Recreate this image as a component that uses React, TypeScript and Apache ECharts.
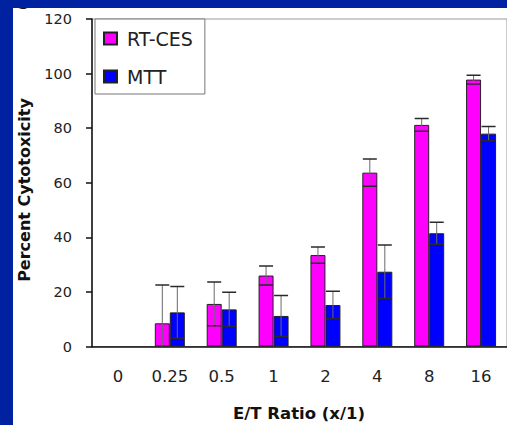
import React, { useEffect, useRef } from "react";
import * as echarts from "echarts";

const categories = ["0", "0.25", "0.5", "1", "2", "4", "8", "16"];
const rtcesValues = [null, 8.5, 15.6, 26.0, 33.5, 63.7, 81.2, 97.8];
const rtcesErrors = [null, 14.0, 8.0, 3.5, 3.0, 5.0, 2.3, 1.6];
const mttValues = [null, 12.5, 13.6, 11.2, 15.2, 27.4, 41.5, 78.0];
const mttErrors = [null, 9.5, 6.3, 7.5, 5.0, 9.8, 4.0, 2.6];
const yTicks = { min: 0, max: 120, interval: 20 };

const FONT = "DejaVu Sans";
const BAR_W = 15;

function errorSeries(name: string, values: (number | null)[], errors: (number | null)[], offset: number) {
  const data: number[][] = [];
  values.forEach((v, i) => {
    if (v != null && errors[i] != null) data.push([i, v, errors[i] as number]);
  });
  return {
    name,
    type: "custom",
    z: 4,
    clip: true,
    encode: { x: 0, y: 1 },
    data,
    renderItem: (params: any, api: any) => {
      const idx = api.value(0);
      const val = api.value(1);
      const err = api.value(2);
      const c = api.coord([idx, val]);
      const hi = api.coord([idx, val + err]);
      const lowVal = Math.max(0, val - err);
      const lo = api.coord([idx, lowVal]);
      const x = c[0] + offset;
      const half = 7;
      const children: any[] = [
        { type: "line", shape: { x1: x, y1: hi[1], x2: x, y2: lo[1] }, style: { stroke: "#6a6a6a", lineWidth: 1 } },
        { type: "line", shape: { x1: x - half, y1: hi[1], x2: x + half, y2: hi[1] }, style: { stroke: "#2a2a2a", lineWidth: 1.5 } },
      ];
      if (val - err > 0) {
        children.push({ type: "line", shape: { x1: x - half, y1: lo[1], x2: x + half, y2: lo[1] }, style: { stroke: "#2a2a2a", lineWidth: 1.5 } });
      }
      return { type: "group", children };
    },
  };
}

export default function App() {
  const ref = useRef<HTMLDivElement>(null);
  useEffect(() => {
    if (!ref.current) return;
    const chart = echarts.init(ref.current, null, { renderer: "svg" });
    chart.setOption({
      animation: false,
      backgroundColor: "transparent",
      grid: { left: 92, top: 19, width: 423, height: 327.5, show: true, borderColor: "#9a9a9a", borderWidth: 1, backgroundColor: "transparent" },
      legend: {
        orient: "vertical",
        left: 95,
        top: 19,
        icon: "rect",
        itemWidth: 13,
        itemHeight: 12,
        itemGap: 19,
        padding: [10, 12, 8, 8],
        borderColor: "#777",
        borderWidth: 1,
        backgroundColor: "#fff",
        textStyle: { fontFamily: FONT, fontSize: 19, color: "#222", padding: [0, 0, 0, 5] },
        data: ["RT-CES", "MTT"],
      },
      xAxis: {
        type: "category",
        data: categories,
        axisLine: { lineStyle: { color: "#111", width: 1.5 } },
        axisTick: { length: 5, lineStyle: { color: "#111", width: 1.5 } },
        axisLabel: { margin: 21, fontSize: 16.5, color: "#222", fontFamily: FONT },
        splitLine: { show: false },
      },
      yAxis: {
        type: "value",
        min: yTicks.min,
        max: yTicks.max,
        interval: yTicks.interval,
        axisLine: { show: true, lineStyle: { color: "#111", width: 1.5 } },
        axisTick: { show: true, length: 6, lineStyle: { color: "#111", width: 1.5 } },
        axisLabel: { margin: 20, fontSize: 14.5, color: "#222", fontFamily: FONT },
        splitLine: { show: false },
      },
      series: [
        {
          name: "RT-CES",
          type: "bar",
          data: rtcesValues.map((v) => (v == null ? "-" : v)),
          barWidth: BAR_W,
          barGap: "0%",
          itemStyle: { color: "#ff00ff", borderColor: "#222", borderWidth: 1 },
        },
        {
          name: "MTT",
          type: "bar",
          data: mttValues.map((v) => (v == null ? "-" : v)),
          barWidth: BAR_W,
          barGap: "0%",
          itemStyle: { color: "#0000ff", borderColor: "#222", borderWidth: 1 },
        },
        errorSeries("RT-CES error", rtcesValues, rtcesErrors, -BAR_W / 2),
        errorSeries("MTT error", mttValues, mttErrors, BAR_W / 2),
      ],
      graphic: [
        {
          type: "text",
          x: 24,
          y: 190,
          rotation: Math.PI / 2,
          style: { text: "Percent Cytotoxicity", font: `bold 16px '${FONT}'`, fill: "#111", align: "center", verticalAlign: "middle" },
        },
        {
          type: "text",
          x: 299,
          y: 413,
          style: { text: "E/T Ratio (x/1)", font: `bold 16.5px '${FONT}'`, fill: "#111", align: "center", verticalAlign: "middle" },
        },
      ],
    });
    return () => chart.dispose();
  }, []);

  return (
    <div style={{ position: "absolute", left: 0, top: 0, width: 507, height: 425, background: "#0021a0", overflow: "hidden" }}>
      <div style={{ position: "absolute", left: 13, top: 8, right: 0, bottom: 0, background: "#fff", overflow: "hidden" }}>
        <span style={{ position: "absolute", left: 0, top: -19, font: `bold 22px '${FONT}'`, color: "#111" }}>C</span>
      </div>
      <div ref={ref} style={{ position: "absolute", left: 0, top: 0, width: 507, height: 425 }} />
    </div>
  );
}
